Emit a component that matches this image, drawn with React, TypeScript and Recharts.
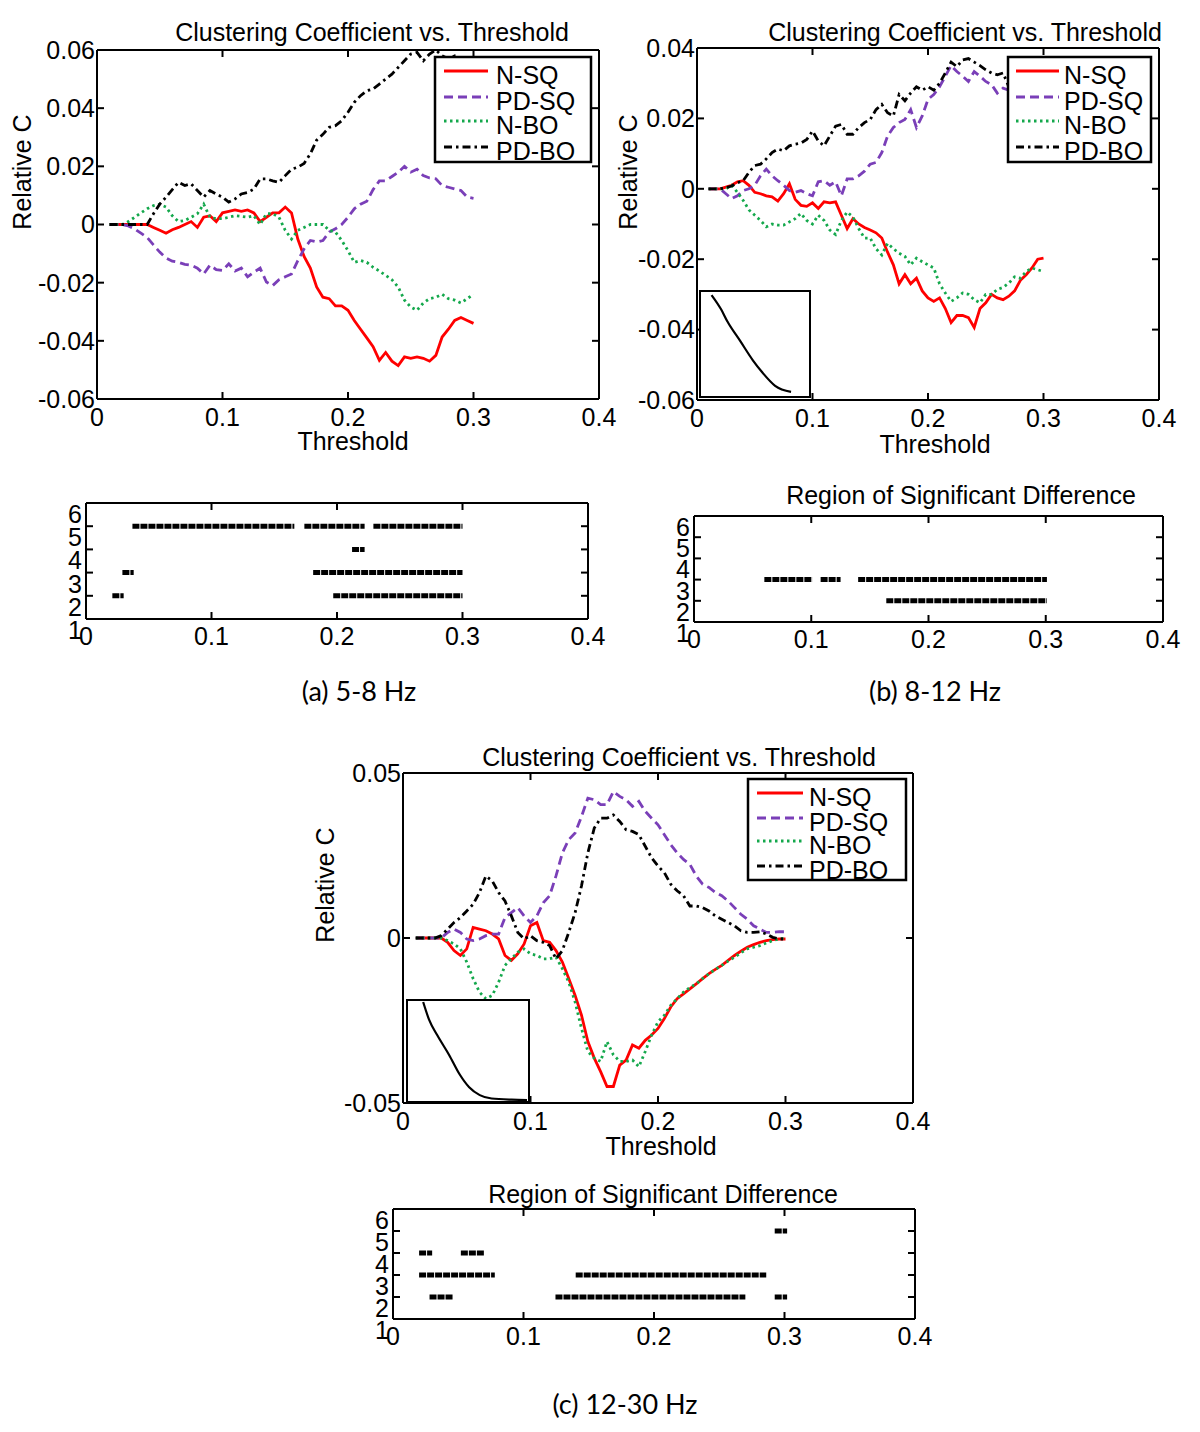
import React from "react";
import { LineChart, Line, XAxis, YAxis } from "recharts";

// ── Data ──────────────────────────────────────────────────────────────────────

const T = [
  0.01, 0.015, 0.02, 0.025, 0.03, 0.035, 0.04, 0.045, 0.05, 0.055,
  0.06, 0.065, 0.07, 0.075, 0.08, 0.085, 0.09, 0.095, 0.1, 0.105,
  0.11, 0.115, 0.12, 0.125, 0.13, 0.135, 0.14, 0.145, 0.15, 0.155,
  0.16, 0.165, 0.17, 0.175, 0.18, 0.185, 0.19, 0.195, 0.2, 0.205,
  0.21, 0.215, 0.22, 0.225, 0.23, 0.235, 0.24, 0.245, 0.25, 0.255,
  0.26, 0.265, 0.27, 0.275, 0.28, 0.285, 0.29, 0.295, 0.3,
];

// (a) 5-8 Hz
const A_NSQ = [
  0, 0, 0, 0, 0, 0, 0, -0.001, -0.002, -0.003,
  -0.0018, -0.001, 0, 0.001, -0.001, 0.0025, 0.003, 0.001, 0.004, 0.0045,
  0.005, 0.0045, 0.005, 0.004, 0.001, 0.0025, 0.004, 0.004, 0.006, 0.004,
  -0.005, -0.011, -0.015, -0.0215, -0.025, -0.0255, -0.028, -0.028, -0.0295, -0.033,
  -0.036, -0.039, -0.042, -0.0467, -0.044, -0.047, -0.0485, -0.0455, -0.046, -0.0455,
  -0.046, -0.047, -0.045, -0.0387, -0.036, -0.033, -0.032, -0.033, -0.034,
];
const A_PDSQ = [
  0, 0, 0, -0.0005, -0.0015, -0.003, -0.0045, -0.007, -0.0095, -0.0115,
  -0.0126, -0.013, -0.0137, -0.014, -0.015, -0.017, -0.014, -0.0155, -0.0158, -0.0135,
  -0.016, -0.015, -0.018, -0.0164, -0.015, -0.0198, -0.021, -0.019, -0.018, -0.017,
  -0.0124, -0.0084, -0.0055, -0.006, -0.0055, -0.0026, -0.0015, 0, 0.0025, 0.0054,
  0.007, 0.008, 0.012, 0.015, 0.015, 0.0165, 0.018, 0.02, 0.018, 0.019,
  0.0168, 0.016, 0.0157, 0.0134, 0.0128, 0.0122, 0.0117, 0.0094, 0.009,
];
const A_NBO = [
  0, 0, 0, 0.001, 0.0025, 0.004, 0.0054, 0.0065, 0.007, 0.006,
  0.003, 0.001, 0.0014, 0.0025, 0.0037, 0.007, 0.0025, 0.002, 0.002, 0.0025,
  0.003, 0.0028, 0.0025, 0.003, 0, 0.0037, 0.0037, 0.0025, -0.002, -0.005,
  -0.002, -0.001, 0, 0, 0, -0.002, -0.0026, -0.0055, -0.009, -0.013,
  -0.0124, -0.013, -0.0147, -0.016, -0.0175, -0.019, -0.0215, -0.026, -0.0284, -0.0295,
  -0.027, -0.0255, -0.025, -0.024, -0.0255, -0.026, -0.027, -0.0255, -0.024,
];
const A_PDBO = [
  0, 0, 0, 0, 0, 0, 0, 0.0037, 0.007, 0.0094,
  0.012, 0.0145, 0.0134, 0.014, 0.0117, 0.0094, 0.0117, 0.0105, 0.0094, 0.0077,
  0.0088, 0.0105, 0.011, 0.0122, 0.0157, 0.0157, 0.015, 0.0145, 0.0168, 0.019,
  0.0197, 0.021, 0.0243, 0.029, 0.031, 0.0334, 0.034, 0.0357, 0.0386, 0.042,
  0.0443, 0.046, 0.0466, 0.0483, 0.05, 0.0517, 0.054, 0.0563, 0.0586, 0.0592,
  0.0563, 0.0586, 0.06, 0.058, 0.057, 0.058, 0.056, 0.057, 0.056,
];

// (b) 8-12 Hz
const B_NSQ = [
  0, 0, 0, 0.0005, 0.001, 0.002, 0.0023, 0.001, -0.001, -0.0014,
  -0.002, -0.0023, -0.0035, -0.0014, 0.0014, -0.003, -0.0047, -0.005, -0.004, -0.0056,
  -0.0037, -0.004, -0.0037, -0.0075, -0.0113, -0.0085, -0.01, -0.011, -0.0117, -0.0125,
  -0.014, -0.018, -0.0216, -0.027, -0.0244, -0.027, -0.0254, -0.029, -0.031, -0.032,
  -0.031, -0.034, -0.038, -0.036, -0.036, -0.0366, -0.0394, -0.034, -0.0324, -0.03,
  -0.031, -0.0315, -0.0305, -0.029, -0.026, -0.0244, -0.0225, -0.02, -0.0197,
];
const B_PDSQ = [
  0, 0, 0, -0.0014, -0.0028, -0.002, -0.0005, 0, 0.001, 0.0037,
  0.0056, 0.0037, 0.0023, 0.001, -0.0005, -0.001, -0.0005, -0.0014, -0.002, 0.002,
  0.0023, 0.001, 0.002, -0.002, 0.0028, 0.0028, 0.0037, 0.005, 0.007, 0.0075,
  0.0103, 0.015, 0.0174, 0.0188, 0.0197, 0.0225, 0.0174, 0.0207, 0.0254, 0.0268,
  0.029, 0.032, 0.035, 0.0333, 0.032, 0.0305, 0.0333, 0.032, 0.0305, 0.0296,
  0.0272, 0.0286, 0.028, 0.029, 0.029, 0.03, 0.03, 0.031, 0.03,
];
const B_NBO = [
  0, 0, 0, 0, 0.001, -0.001, -0.0033, -0.006, -0.0075, -0.009,
  -0.0108, -0.01, -0.0103, -0.0103, -0.0094, -0.0085, -0.007, -0.009, -0.01, -0.0075,
  -0.009, -0.0117, -0.013, -0.009, -0.0066, -0.008, -0.0113, -0.014, -0.014, -0.017,
  -0.0188, -0.0155, -0.017, -0.0183, -0.0192, -0.0216, -0.0197, -0.0207, -0.0216, -0.0225,
  -0.027, -0.0296, -0.032, -0.031, -0.0296, -0.03, -0.0315, -0.0324, -0.03, -0.03,
  -0.0286, -0.028, -0.0268, -0.025, -0.0254, -0.0235, -0.0225, -0.023, -0.0235,
];
const B_PDBO = [
  0, 0, 0, 0.0003, 0.0008, 0.0017, 0.0023, 0.0047, 0.0066, 0.007,
  0.0085, 0.0103, 0.0113, 0.0108, 0.0122, 0.0127, 0.013, 0.014, 0.0164, 0.0136,
  0.0122, 0.015, 0.0178, 0.0183, 0.0155, 0.0155, 0.0174, 0.0188, 0.0197, 0.0225,
  0.024, 0.0216, 0.0207, 0.0268, 0.025, 0.0272, 0.029, 0.028, 0.029, 0.028,
  0.03, 0.0329, 0.036, 0.0347, 0.0366, 0.037, 0.036, 0.035, 0.0338, 0.0329,
  0.0324, 0.0329, 0.029, 0.031, 0.03, 0.032, 0.031, 0.032, 0.031,
];

// (c) 12-30 Hz
const C_NSQ = [
  0, 0, 0, 0, 0, -0.0013, -0.0038, -0.0053, -0.0033, 0.0032,
  0.0027, 0.0022, 0.0012, -0.0003, -0.0053, -0.0068, -0.0048, -0.0018, 0.0037, 0.0047,
  -0.0008, -0.0013, -0.0038, -0.0073, -0.0123, -0.0174, -0.0234, -0.0314, -0.0364, -0.0405,
  -0.045, -0.045, -0.0385, -0.037, -0.0324, -0.0334, -0.031, -0.0294, -0.0274, -0.0244,
  -0.0209, -0.0184, -0.0169, -0.0154, -0.0139, -0.0123, -0.0108, -0.0095, -0.0083, -0.0068,
  -0.0053, -0.004, -0.0028, -0.002, -0.0013, -0.0008, -0.0005, -0.0003, -0.0003,
];
const C_PDSQ = [
  0, 0, 0, 0, 0, 0.0017, 0.0027, 0.0017, -0.0003, -0.0008,
  -0.0003, 0.0007, 0.0012, 0.0012, 0.0062, 0.0077, 0.0092, 0.0067, 0.0047, 0.0067,
  0.0107, 0.0128, 0.0188, 0.0258, 0.0298, 0.0318, 0.0368, 0.0424, 0.0419, 0.0404,
  0.0404, 0.0444, 0.0429, 0.0419, 0.0399, 0.0414, 0.0384, 0.0363, 0.0343, 0.0313,
  0.0283, 0.0258, 0.0238, 0.0223, 0.0188, 0.0163, 0.0153, 0.0138, 0.0128, 0.0112,
  0.0092, 0.0072, 0.0057, 0.0037, 0.0027, 0.0017, 0.0017, 0.0019, 0.0019,
];
const C_NBO = [
  0, 0, 0, 0, 0, -0.0008, -0.0018, -0.0033, -0.0073, -0.0123,
  -0.0164, -0.0184, -0.0174, -0.0134, -0.0083, -0.0063, -0.0043, -0.0033, -0.0048, -0.0053,
  -0.0063, -0.0063, -0.0058, -0.0093, -0.0134, -0.0194, -0.0274, -0.0344, -0.0364, -0.0374,
  -0.0314, -0.0354, -0.0374, -0.0374, -0.037, -0.039, -0.0344, -0.0294, -0.0254, -0.0234,
  -0.0204, -0.0184, -0.0164, -0.015, -0.0139, -0.0123, -0.0108, -0.0095, -0.0083, -0.007,
  -0.0058, -0.0045, -0.0033, -0.0028, -0.0023, -0.0015, -0.0008, -0.0003, 0,
];
const C_PDBO = [
  0, 0, 0, 0, 0.0007, 0.0027, 0.0047, 0.0062, 0.0082, 0.0102,
  0.0138, 0.0188, 0.0173, 0.0138, 0.0112, 0.0067, 0.0017, -0.0003, 0.0007, -0.0008,
  -0.0013, -0.0023, -0.0063, -0.0038, 0.0017, 0.0077, 0.0158, 0.0258, 0.0333, 0.0363,
  0.0363, 0.0373, 0.0353, 0.0328, 0.0323, 0.0313, 0.0278, 0.0243, 0.0218, 0.0198,
  0.0163, 0.0143, 0.0128, 0.0097, 0.0097, 0.0092, 0.0082, 0.0067, 0.0057, 0.0047,
  0.0037, 0.0022, 0.0017, 0.0017, 0.0019, 0.0012, 0.0002, -0.0003, -0.0003,
];

// inset curves (normalised units)
const INSET_B_X = [0.09, 0.18, 0.24, 0.36, 0.48, 0.57, 0.69, 0.84];
const INSET_B_Y = [0.98, 0.84, 0.72, 0.53, 0.34, 0.22, 0.09, 0.03];
const INSET_C_X = [0.12, 0.17, 0.24, 0.34, 0.43, 0.51, 0.6, 0.7, 0.87, 1.0];
const INSET_C_Y = [1.0, 0.82, 0.66, 0.46, 0.26, 0.13, 0.05, 0.015, 0.003, 0];

// region of significant difference: [row, from, to]
const REGION_A = [
  [5, 0.037, 0.166], [5, 0.174, 0.222], [5, 0.229, 0.3],
  [4, 0.212, 0.222],
  [3, 0.029, 0.038], [3, 0.181, 0.3],
  [2, 0.021, 0.03], [2, 0.197, 0.3],
];
const REGION_B = [
  [3, 0.06, 0.101], [3, 0.108, 0.125], [3, 0.14, 0.301],
  [2, 0.164, 0.301],
];
const REGION_C = [
  [5, 0.2925, 0.302],
  [4, 0.02, 0.03], [4, 0.052, 0.07],
  [3, 0.02, 0.078], [3, 0.14, 0.286],
  [2, 0.028, 0.046], [2, 0.1245, 0.27], [2, 0.2925, 0.302],
];

const X_TICKS = [0, 0.1, 0.2, 0.3, 0.4];
const Y_TICKS_A = [-0.06, -0.04, -0.02, 0, 0.02, 0.04, 0.06];
const Y_TICKS_B = [-0.06, -0.04, -0.02, 0, 0.02, 0.04];
const Y_TICKS_C = [-0.05, 0, 0.05];
const R_TICKS = [1, 2, 3, 4, 5, 6];

// ── Styles ────────────────────────────────────────────────────────────────────

const FONT = "'Liberation Sans', Arial, Helvetica, sans-serif";
const CAPTION_FONT = "Lato, 'Open Sans', sans-serif";
const TICK = { fontSize: 25, fill: "#000", fontFamily: FONT };
const FRAME = { stroke: "#000", strokeWidth: 2 };

const SERIES = [
  { key: "nsq", name: "N-SQ", color: "#ff0000", dash: undefined },
  { key: "pdsq", name: "PD-SQ", color: "#7a3fb8", dash: "9 5" },
  { key: "nbo", name: "N-BO", color: "#14a84c", dash: "2.5 3.5" },
  { key: "pdbo", name: "PD-BO", color: "#000000", dash: "8 4 2.5 4" },
];

type Box = { x: number; y: number; w: number; h: number };

const rowsOf = (nsq: number[], pdsq: number[], nbo: number[], pdbo: number[]) =>
  T.map((t, i) => ({ t, nsq: nsq[i], pdsq: pdsq[i], nbo: nbo[i], pdbo: pdbo[i] }));

const ROWS_A = rowsOf(A_NSQ, A_PDSQ, A_NBO, A_PDBO);
const ROWS_B = rowsOf(B_NSQ, B_PDSQ, B_NBO, B_PDBO);
const ROWS_C = rowsOf(C_NSQ, C_PDSQ, C_NBO, C_PDBO);

const fmt = (v: number) => String(v);

// ── Pieces ────────────────────────────────────────────────────────────────────

function Txt({ x, y, children, size = 25, rotate = false, font = FONT }: {
  x: number; y: number; children: React.ReactNode; size?: number; rotate?: boolean; font?: string;
}) {
  return (
    <div style={{
      position: "absolute", left: x, top: y, fontSize: size, fontFamily: font,
      lineHeight: 1, whiteSpace: "nowrap", color: "#000",
      transform: `translate(-50%, -50%)${rotate ? " rotate(-90deg)" : ""}`,
    }}>
      {children}
    </div>
  );
}

const NoLabel = () => <g />;

// inward MATLAB-style ticks + frame
function frameAxes(xDomain: number[], xTicks: number[], yDomain: number[], yTicks: number[]) {
  const common = {
    allowDataOverflow: true, tick: NoLabel, tickSize: 7, axisLine: FRAME, tickLine: FRAME,
    mirror: true, interval: 0 as const,
  };
  return [
    <XAxis key="xb" xAxisId="xb" dataKey="t" type="number" domain={xDomain} ticks={xTicks} {...common} />,
    <XAxis key="xt" xAxisId="xt" dataKey="t" type="number" orientation="top" domain={xDomain} ticks={xTicks} {...common} />,
    <YAxis key="yl" yAxisId="yl" type="number" domain={yDomain} ticks={yTicks} {...common} />,
    <YAxis key="yr" yAxisId="yr" type="number" orientation="right" domain={yDomain} ticks={yTicks} {...common} />,
  ];
}

const ML = 80, MR = 20, MT = 20, MB = 50;

function MainChart({ box, rows, yDomain, yTicks }: {
  box: Box; rows: ReturnType<typeof rowsOf>; yDomain: number[]; yTicks: number[];
}) {
  return (
    <div style={{ position: "absolute", left: box.x - ML, top: box.y - MT }}>
      <LineChart width={box.w + ML + MR} height={box.h + MT + MB} data={rows}
        margin={{ top: MT, right: MR, bottom: 0, left: 0 }}>
        <XAxis xAxisId="x" dataKey="t" type="number" domain={[0, 0.4]} ticks={X_TICKS} allowDataOverflow
          interval={0} tickLine={false} axisLine={false} tickSize={0} tickMargin={9} height={MB}
          tick={TICK} tickFormatter={fmt} />
        <YAxis yAxisId="y" type="number" domain={yDomain} ticks={yTicks} allowDataOverflow
          interval={0} tickLine={false} axisLine={false} tickSize={0} tickMargin={2} width={ML}
          tick={TICK} tickFormatter={fmt} />
        {frameAxes([0, 0.4], X_TICKS, yDomain, yTicks)}
        {SERIES.map((s) => (
          <Line key={s.key} xAxisId="x" yAxisId="y" dataKey={s.key} type="linear" stroke={s.color}
            strokeWidth={2.8} strokeDasharray={s.dash} dot={false} isAnimationActive={false} />
        ))}
      </LineChart>
    </div>
  );
}

const RML = 70, RMR = 20, RMT = 10, RMB = 45;

function RegionYTick({ x, y, payload }: any) {
  return (
    <text x={x} y={y + 11} textAnchor="end" dominantBaseline="central" fontSize={25}
      fontFamily={FONT} fill="#000">{payload.value}</text>
  );
}

function RegionChart({ box, spans }: { box: Box; spans: number[][] }) {
  return (
    <div style={{ position: "absolute", left: box.x - RML, top: box.y - RMT }}>
      <LineChart width={box.w + RML + RMR} height={box.h + RMT + RMB}
        margin={{ top: RMT, right: RMR, bottom: 0, left: 0 }}>
        <XAxis xAxisId="x" dataKey="t" type="number" domain={[0, 0.4]} ticks={X_TICKS} allowDataOverflow
          interval={0} tickLine={false} axisLine={false} tickSize={0} tickMargin={8} height={RMB}
          tick={TICK} tickFormatter={fmt} />
        <YAxis yAxisId="y" type="number" domain={[1, 6]} ticks={R_TICKS} allowDataOverflow
          interval={0} tickLine={false} axisLine={false} tickSize={0} tickMargin={4} width={RML}
          tick={<RegionYTick />} />
        {frameAxes([0, 0.4], X_TICKS, [1, 6], R_TICKS)}
        {spans.map(([row, from, to], i) => (
          <Line key={i} xAxisId="x" yAxisId="y" data={[{ t: from, r: row }, { t: to, r: row }]}
            dataKey="r" type="linear" stroke="#000" strokeWidth={5} strokeDasharray="7 1"
            dot={false} isAnimationActive={false} />
        ))}
      </LineChart>
    </div>
  );
}

function Inset({ box, xs, ys }: { box: Box; xs: number[]; ys: number[] }) {
  const data = xs.map((u, i) => ({ u, v: ys[i] }));
  return (
    <div style={{
      position: "absolute", left: box.x, top: box.y, width: box.w, height: box.h,
      background: "#fff", border: "2px solid #000", boxSizing: "border-box",
    }}>
      <LineChart width={box.w - 4} height={box.h - 4} data={data} margin={{ top: 1, right: 1, bottom: 1, left: 1 }}>
        <XAxis dataKey="u" type="number" domain={[0, 1]} hide />
        <YAxis type="number" domain={[0, 1]} hide />
        <Line dataKey="v" type="monotone" stroke="#000" strokeWidth={2.2} dot={false} isAnimationActive={false} />
      </LineChart>
    </div>
  );
}

function LegendBox({ box, lineX1, lineX2, textX, rowYs }: {
  box: Box; lineX1: number; lineX2: number; textX: number; rowYs: number[];
}) {
  return (
    <svg style={{ position: "absolute", left: box.x, top: box.y, overflow: "visible" }} width={box.w} height={box.h}>
      <rect x={1} y={1} width={box.w - 2} height={box.h - 2} fill="#fff" stroke="#000" strokeWidth={2.5} />
      {SERIES.map((s, i) => (
        <g key={s.key}>
          <line x1={lineX1} x2={lineX2} y1={rowYs[i]} y2={rowYs[i]} stroke={s.color} strokeWidth={2.8}
            strokeDasharray={s.dash} />
          <text x={textX} y={rowYs[i] + 4} dominantBaseline="central" fontSize={25} fontFamily={FONT} fill="#000">
            {s.name}
          </text>
        </g>
      ))}
    </svg>
  );
}

// ── Figure ────────────────────────────────────────────────────────────────────

export default function App() {
  return (
    <div style={{ position: "absolute", left: 0, top: 0, width: 1200, height: 1432, background: "#fff", overflow: "hidden" }}>
      {/* (a) */}
      <MainChart box={{ x: 97, y: 50, w: 502, h: 349 }} rows={ROWS_A} yDomain={[-0.06, 0.06]} yTicks={Y_TICKS_A} />
      <LegendBox box={{ x: 434, y: 56, w: 158, h: 107 }} lineX1={10} lineX2={54} textX={62} rowYs={[15, 41, 65, 91]} />
      <Txt x={372} y={32}>Clustering Coefficient vs. Threshold</Txt>
      <Txt x={353} y={441}>Threshold</Txt>
      <Txt x={22} y={172} rotate>Relative C</Txt>
      <RegionChart box={{ x: 86, y: 503, w: 502, h: 116 }} spans={REGION_A} />
      <Txt x={359} y={690} size={27} font={CAPTION_FONT}>(a) 5-8 Hz</Txt>

      {/* (b) */}
      <MainChart box={{ x: 697, y: 48, w: 462, h: 352 }} rows={ROWS_B} yDomain={[-0.06, 0.04]} yTicks={Y_TICKS_B} />
      <LegendBox box={{ x: 1007, y: 56, w: 145, h: 107 }} lineX1={9} lineX2={52} textX={57} rowYs={[15, 41, 65, 91]} />
      <Inset box={{ x: 699, y: 290, w: 112, h: 108 }} xs={INSET_B_X} ys={INSET_B_Y} />
      <Txt x={965} y={32}>Clustering Coefficient vs. Threshold</Txt>
      <Txt x={935} y={444}>Threshold</Txt>
      <Txt x={628} y={172} rotate>Relative C</Txt>
      <Txt x={961} y={495}>Region of Significant Difference</Txt>
      <RegionChart box={{ x: 694, y: 516, w: 469, h: 106 }} spans={REGION_B} />
      <Txt x={935} y={690} size={27} font={CAPTION_FONT}>(b) 8-12 Hz</Txt>

      {/* (c) */}
      <MainChart box={{ x: 403, y: 773, w: 510, h: 330 }} rows={ROWS_C} yDomain={[-0.05, 0.05]} yTicks={Y_TICKS_C} />
      <LegendBox box={{ x: 747, y: 778, w: 160, h: 103 }} lineX1={10} lineX2={56} textX={62} rowYs={[15, 40, 63, 88]} />
      <Inset box={{ x: 406, y: 999, w: 124, h: 104 }} xs={INSET_C_X} ys={INSET_C_Y} />
      <Txt x={679} y={757}>Clustering Coefficient vs. Threshold</Txt>
      <Txt x={661} y={1146}>Threshold</Txt>
      <Txt x={325} y={885} rotate>Relative C</Txt>
      <Txt x={663} y={1194}>Region of Significant Difference</Txt>
      <RegionChart box={{ x: 393, y: 1209, w: 522, h: 110 }} spans={REGION_C} />
      <Txt x={625} y={1403} size={27} font={CAPTION_FONT}>(c) 12-30 Hz</Txt>
    </div>
  );
}
